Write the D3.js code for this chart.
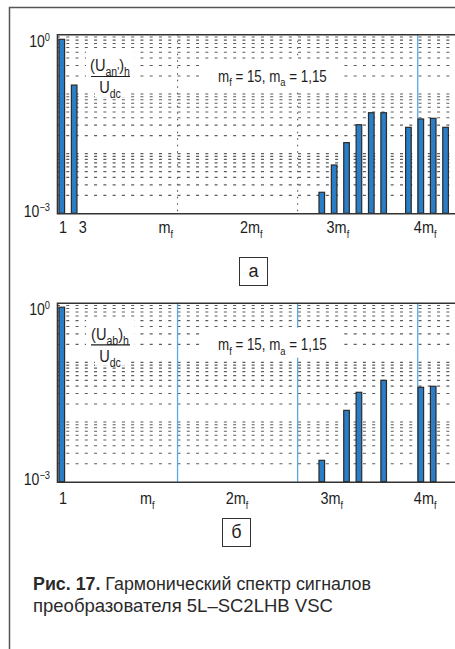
<!DOCTYPE html>
<html>
<head>
<meta charset="utf-8">
<script src="https://cdn.jsdelivr.net/npm/d3@7"></script>
<style>
  body { margin: 0; background: #fff; }
  text { font-family: "Liberation Sans", Arial, sans-serif; fill: #1e1e1e; }
</style>
</head>
<body>
<div id="chart"></div>
<script>
// harmonic spectrum, panel a (U_an') and panel b (U_ab)
let harmonicsA = [1, 3, 43, 45, 47, 49, 51, 53, 57, 59, 61, 63];
let amplitudesA = [0.824, 0.141, 0.00225, 0.00645, 0.0153, 0.0305, 0.0485, 0.0485, 0.0276, 0.0381, 0.0391, 0.0276];

let harmonicsB = [1, 43, 47, 49, 53, 59, 61];
let amplitudesB = [0.84, 0.00228, 0.0157, 0.0315, 0.050, 0.0382, 0.0397];

let tickLabelsA = ["1", "3", "m_f", "2m_f", "3m_f", "4m_f"];
let tickPosA = [1.2, 4.4, 17.8, 31.6, 45.6, 59.7];
let tickLabelsB = ["1", "m_f", "2m_f", "3m_f", "4m_f"];
let tickPosB = [1.2, 14.8, 29.3, 44.6, 59.7];

let gridHarmonics = [19.7, 39.1, 58.5];
let yTickValues = [1, 1e-3];
let yTickLabels = [["10", "0"], ["10", "\u22123"]];

let W = 455, H = 649;
let plotH = 179;

let svg = d3.select("#chart")
  .append("svg")
  .attr("width", W)
  .attr("height", H)

let x = d3.scaleLinear()
  .domain([0, 70])
  .range([55.6, 55.6 + 6.19 * 70])

let y = d3.scaleLog()
  .domain([1e-3, 1])
  .range([plotH, 0])

// outer frame of the figure
svg.append("path")
  .attr("d", "M9.5," + H + "V7.5H" + W)
  .attr("fill", "none")
  .attr("stroke", "#555")
  .style("stroke-width", 1.5)

// text with sub/superscripts, squeezed horizontally by sx
function rich(g, px, py, parts, size, anchor, sx, subScale) {
  let t = g.append("text")
    .attr("transform", "translate(" + px + "," + py + ") scale(" + (sx || 1) + ",1)")
    .attr("font-size", size)
    .attr("text-anchor", anchor || "start")
  let shift = 0
  parts.forEach(p => {
    let str = typeof p === "string" ? p : p[0]
    let kind = typeof p === "string" ? "n" : p[1]
    let target = kind === "sub" ? size * 0.3 : kind === "sup" ? -size * 0.38 : 0
    t.append("tspan")
      .attr("dy", target - shift)
      .attr("font-size", kind === "n" ? size : size * (subScale || 0.66))
      .text(str)
    shift = target
  })
  return t
}

function labelParts(s) {
  let i = s.indexOf("_")
  return i < 0 ? [s] : [s.slice(0, i), [s.slice(i + 1), "sub"]]
}

function drawPanel(top, harmonics, amps, tickPos, tickLabels, opts) {
  let g = svg.append("g")
    .attr("transform", "translate(0," + top + ")")

  // dotted minor grid rows
  g.append("g")
    .selectAll("line")
    .data(y.ticks().filter(v => v > 1.0001e-3 && v < 0.9999))
    .join("line")
    .attr("x1", 57).attr("x2", 470)
    .attr("y1", d => y(d))
    .attr("y2", d => y(d))
    .attr("stroke", "#5c5c5c")
    .style("stroke-width", 1.1)
    .style("stroke-dasharray", "3,6.27")

  // vertical grid lines
  g.append("g")
    .selectAll("line")
    .data(gridHarmonics)
    .join("line")
    .attr("x1", d => x(d)).attr("x2", d => x(d))
    .attr("y1", 0).attr("y2", plotH)
    .attr("stroke", (d, i) => opts.blue[i] ? "#5aa7e2" : "#555")
    .style("stroke-width", (d, i) => opts.blue[i] ? 1.3 : 1.1)
    .style("stroke-dasharray", (d, i) => opts.blue[i] ? null : "1.5,5")

  // white boxes behind the annotations
  let boxes = [[86, 15, 48, 30], [95, 44, 30, 19], [205, 25, 136, 30]]
  g.append("g")
    .selectAll("rect")
    .data(boxes)
    .join("rect")
    .attr("x", d => d[0]).attr("y", d => d[1])
    .attr("width", d => d[2]).attr("height", d => d[3])
    .attr("fill", "#fff")

  // fraction label
  rich(g, 110, 37, ["(U", [opts.sub, "sub"], ")", ["h", "sub"]], 17, "middle", 0.86, 0.72)
  g.append("line")
    .attr("x1", 91).attr("x2", 130)
    .attr("y1", 42.2).attr("y2", 42.2)
    .attr("stroke", "#1e1e1e")
    .style("stroke-width", 1.1)
  rich(g, 110, 59, ["U", ["dc", "sub"]], 17, "middle", 0.86, 0.72)

  rich(g, 218, 47.2, ["m", ["f", "sub"], " = 15, m", ["a", "sub"], " = 1,15"], 16.5, "start", 0.81, 0.7)

  // bars
  g.append("g")
    .selectAll("rect")
    .data(harmonics.map((h, i) => ({ h: h, v: amps[i] })))
    .join("rect")
    .attr("x", d => x(d.h) - 2.8)
    .attr("y", d => y(d.v))
    .attr("width", 5.6)
    .attr("height", d => plotH - y(d.v))
    .attr("fill", "#2a7ec6")
    .attr("stroke", "#2b2b2b")
    .style("stroke-width", 1.2)

  // plot frame
  g.append("path")
    .attr("d", "M470,0.5H57.5V" + (plotH + 0.5) + "H470")
    .attr("fill", "none")
    .attr("stroke", "#333")
    .style("stroke-width", 1.6)

  // y tick labels
  yTickValues.forEach((v, i) => {
    let py = v === 1 ? 12.4 : plotH + 3.4
    rich(g, 50, py, [yTickLabels[i][0], [yTickLabels[i][1], "sup"]], 16, "end", 0.88)
  })

  // x tick labels
  tickPos.forEach((p, i) => {
    rich(g, x(p), plotH + opts.labelDy, labelParts(tickLabels[i]), 17, "middle", 0.85, 0.62)
  })

  // panel letter
  g.append("rect")
    .attr("x", opts.boxX + 0.5).attr("y", plotH + opts.boxDy + 0.5)
    .attr("width", 28).attr("height", 28)
    .attr("fill", "none")
    .attr("stroke", "#333")
    .style("stroke-width", 1)
  g.append("text")
    .attr("x", opts.boxX + 14.5)
    .attr("y", plotH + opts.boxDy + 20.5)
    .attr("font-size", 18)
    .attr("text-anchor", "middle")
    .text(opts.letter)
}

drawPanel(34.3, harmonicsA, amplitudesA, tickPosA, tickLabelsA,
  { sub: "an'", blue: [false, false, true], labelDy: 20, boxX: 239, boxDy: 43.7, letter: "а" })
drawPanel(302.7, harmonicsB, amplitudesB, tickPosB, tickLabelsB,
  { sub: "ab", blue: [true, true, true], labelDy: 22.5, boxX: 222, boxDy: 36.3, letter: "б" })

// caption
let cap = svg.append("text")
  .attr("transform", "translate(33,590) scale(0.963,1)")
  .attr("font-size", 18.5)
  .style("fill", "#2a2a2a")
cap.append("tspan").attr("font-weight", "bold").text("Рис. 17.")
cap.append("tspan").text(" Гармонический спектр сигналов")

svg.append("text")
  .attr("x", 33)
  .attr("y", 612)
  .attr("font-size", 18.5)
  .style("fill", "#2a2a2a")
  .text("преобразователя 5L\u2013SC2LHB VSC")
</script>
</body>
</html>
